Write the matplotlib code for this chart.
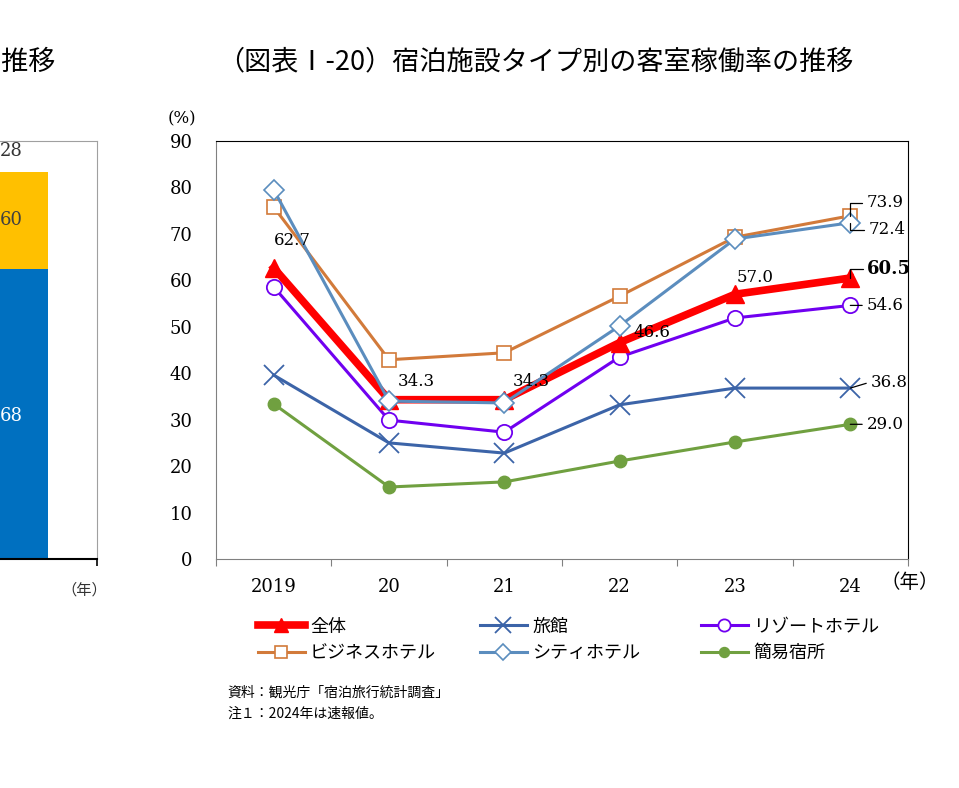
import numpy as np
import matplotlib
matplotlib.use("Agg")
import matplotlib.pyplot as plt
from matplotlib.lines import Line2D

plt.rcParams['font.family'] = ['DejaVu Serif', 'Noto Sans CJK JP']
JP = ['Noto Sans CJK JP', 'DejaVu Sans']

# --- data ---
years = ["2019", "20", "21", "22", "23", "24"]
total    = [62.7, 34.3, 34.3, 46.6, 57.0, 60.5]
ryokan   = [39.6, 25.0, 22.8, 33.2, 36.8, 36.8]
resort   = [58.6, 29.9, 27.3, 43.5, 51.9, 54.6]
business = [75.8, 42.9, 44.4, 56.6, 69.3, 73.9]
city     = [79.5, 34.0, 33.6, 50.2, 68.9, 72.4]
simple   = [33.4, 15.5, 16.6, 21.1, 25.2, 29.0]

labels = ["全体", "旅館", "リゾートホテル", "ビジネスホテル", "シティホテル", "簡易宿所"]

# left (cut off) chart
left_blue, left_yellow = 69.4, 23.2
left_texts = ["68", "60", "28"]

W, H = 959, 788
fig = plt.figure(figsize=(W / 100, H / 100), dpi=100)

def px(x0, y0, x1, y1):
    return [x0 / W, 1 - y1 / H, (x1 - x0) / W, (y1 - y0) / H]

# ---------- left partial chart ----------
ax0 = fig.add_axes(px(-192, 141, 97, 559))
ax0.set_xlim(0, 1)
ax0.set_ylim(0, 100)
ax0.bar(0.55, left_blue, width=0.56, color="#0070C0")
ax0.bar(0.55, left_yellow, width=0.56, bottom=left_blue, color="#FFC000")
tx = (23 + 192) / 289
ax0.text(tx, 34.2, left_texts[0], ha="right", va="center",
         fontsize=13, color="white")
ax0.text(tx, left_blue + left_yellow / 2, left_texts[1], ha="right",
         va="center", fontsize=13, color="#404040")
ax0.text(tx, 97.6, left_texts[2], ha="right", va="center", fontsize=13,
         color="#333333")
for s in ["top", "right"]:
    ax0.spines[s].set_color("#a0a0a0")
ax0.spines["left"].set_visible(False)
ax0.spines["bottom"].set_color("black")
ax0.spines["bottom"].set_linewidth(1.5)
ax0.set_xticks([1.0])
ax0.set_xticklabels([])
ax0.set_yticks([])
ax0.tick_params(axis="x", length=5, color="black", width=1.2)
fig.text(84 / W, 1 - 590 / H, "（年）", ha="center", va="center",
         fontsize=11, family=JP, color="#333333")
fig.text(56 / W, 1 - 62 / H, "の推移", ha="right", va="center",
         fontsize=19.5, family=JP)

# ---------- main chart ----------
ax = fig.add_axes(px(216, 141, 908, 559))
x = np.arange(len(years))

series = [
    (simple,   "#70A040", dict(marker="o", ms=9, mfc="#70A040", mec="#70A040"), 2.2, 5),
    (ryokan,   "#3C64A8", dict(marker="x", ms=14, mew=1.3), 2.2, 6),
    (resort,   "#7000F0", dict(marker="o", ms=11, mfc="white", mec="#7000F0", mew=1.3), 2.2, 7),
    (total,    "#FF0000", dict(marker="^", ms=13, mfc="#FF0000", mec="#FF0000"), 5.5, 8),
    (business, "#D27A3A", dict(marker="s", ms=10, mfc="white", mec="#D27A3A", mew=1.2), 2.2, 9),
    (city,     "#5B8DBE", dict(marker="D", ms=10, mfc="white", mec="#5B8DBE", mew=1.2), 2.2, 10),
]
names = {id(simple): labels[5], id(ryokan): labels[1], id(resort): labels[2],
         id(total): labels[0], id(business): labels[3], id(city): labels[4]}
handles = {}
for vals, col, mk, lw, z in series:
    ln, = ax.plot(x, vals, color=col, lw=lw, zorder=z, clip_on=False, **mk)
    handles[names[id(vals)]] = ln

ax.set_xlim(-0.5, len(years) - 0.5)
ax.set_ylim(0, 90)
ax.set_yticks(np.arange(0, 91, 10))
ax.set_xticks(np.arange(-0.5, len(years), 1.0))
ax.set_xticklabels([])
ax.set_xticks(x, minor=True)
ax.set_xticklabels(years, minor=True, fontsize=13)
ax.tick_params(axis="x", which="major", length=5, color="#808080", direction="out")
ax.tick_params(axis="x", which="minor", length=0, pad=13.5)
ax.tick_params(axis="y", length=0, pad=17, labelsize=13)
ax.spines["left"].set_color("#808080")
ax.spines["bottom"].set_color("#808080")
ax.spines["top"].set_color("black")
ax.spines["right"].set_color("black")

# data labels for 全体
mid_off = [(19, 27), (27, 18), (27, 18), (32, 10), (20, 17)]
for i, (dx, dy) in enumerate(mid_off):
    ax.annotate(f"{total[i]:.1f}", (x[i], total[i]), xytext=(dx * 0.72, dy * 0.72),
                textcoords="offset points", ha="center", va="center",
                fontsize=12, zorder=12)

# 2024 end labels with leader lines
end_labels = [
    (business, 16, 13, "angle,angleA=0,angleB=90,rad=0", "normal"),
    (city, 18, -7, "angle,angleA=0,angleB=90,rad=0", "normal"),
    (total, 17, 9, "angle,angleA=0,angleB=90,rad=0", "bold"),
    (resort, 16, 0, "arc3", "normal"),
    (ryokan, 20, 6, "arc3", "normal"),
    (simple, 16, 0, "arc3", "normal"),
]
for vals, dx, dy, cs, fw in end_labels:
    ax.annotate(f"{vals[-1]:.1f}", (x[-1], vals[-1]), xytext=(dx * 0.72, dy * 0.72),
                textcoords="offset points", ha="left", va="center",
                fontsize=13 if fw == "bold" else 12, fontweight=fw, zorder=12,
                arrowprops=dict(arrowstyle="-", color="black", lw=0.9,
                                connectionstyle=cs, relpos=(0, 0.5),
                                shrinkA=1, shrinkB=0))

fig.text(182 / W, 1 - 119 / H, "(%)", ha="center", va="center", fontsize=12)
fig.text(910 / W, 1 - 583 / H, "（年）", ha="center", va="center",
         fontsize=14, family=JP)
fig.text(535 / W, 1 - 62 / H, "（図表Ⅰ-20）宿泊施設タイプ別の客室稼働率の推移",
         ha="center", va="center", fontsize=19.5, family=JP)

# legend: three columns placed separately
cols = [(264, [labels[0], labels[3]]), (486, [labels[1], labels[4]]),
        (707, [labels[2], labels[5]])]
for cx, labs in cols:
    hs = []
    for lb in labs:
        h = handles[lb]
        hs.append(Line2D([], [], color=h.get_color(), lw=h.get_linewidth(),
                         marker=h.get_marker(), ms=h.get_markersize() * 0.8,
                         mfc=h.get_markerfacecolor(), mec=h.get_markeredgecolor(),
                         mew=h.get_markeredgewidth()))
    fig.legend(hs, labs, loc="upper left",
               bbox_to_anchor=((cx - 10) / W, 1 - 614 / H),
               frameon=False, prop={"family": JP, "size": 13},
               handlelength=2.6, handletextpad=0.3, labelspacing=0.48,
               borderpad=0.2, borderaxespad=0)

fig.text(227 / W, 1 - 693 / H, "資料：観光庁「宿泊旅行統計調査」", ha="left",
         va="center", fontsize=10, family=JP)
fig.text(227 / W, 1 - 714 / H, "注１：2024年は速報値。", ha="left",
         va="center", fontsize=10, family=JP)

fig.savefig("out.png", dpi=100)
